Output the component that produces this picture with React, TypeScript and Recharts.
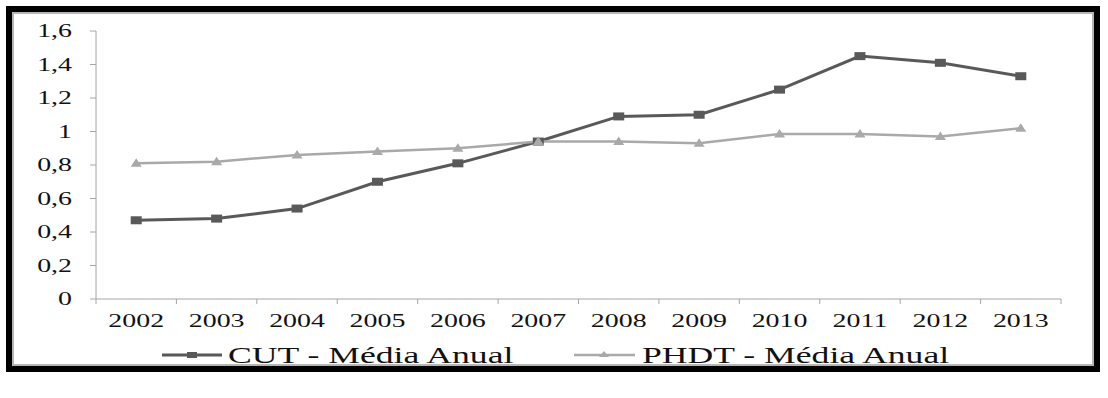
import { LineChart, Line, XAxis, YAxis, Legend } from "recharts";

const years = ["2002", "2003", "2004", "2005", "2006", "2007", "2008", "2009", "2010", "2011", "2012", "2013"];
const cutValues = [0.47, 0.48, 0.54, 0.7, 0.81, 0.94, 1.09, 1.1, 1.25, 1.45, 1.41, 1.33];
const phdtValues = [0.81, 0.82, 0.86, 0.88, 0.9, 0.94, 0.94, 0.93, 0.985, 0.985, 0.97, 1.02];
const yTicks = [0, 0.2, 0.4, 0.6, 0.8, 1, 1.2, 1.4, 1.6];
const seriesNames = ["CUT - Média Anual", "PHDT - Média Anual"];

const data = years.map((year, i) => ({ year, cut: cutValues[i], phdt: phdtValues[i] }));

const FONT = "Liberation Serif, DejaVu Serif, serif";
const AXIS = "#a6a6a6";
const CUT_COLOR = "#595959";
const PHDT_COLOR = "#a9a9a9";
const STRETCH = 1.55;

const fmt = (v: number) => String(v).replace(".", ",");

function XTick(props: any) {
  const { x, y, payload, index } = props;
  const half = payload.offset || 40.2;
  const axisY = y - 5;
  return (
    <g>
      <line x1={x - half} x2={x - half} y1={axisY} y2={axisY + 5} stroke={AXIS} />
      {index === years.length - 1 && (
        <line x1={x + half} x2={x + half} y1={axisY} y2={axisY + 5} stroke={AXIS} />
      )}
      <text
        transform={`translate(${x},${axisY + 28}) scale(${STRETCH},1)`}
        textAnchor="middle"
        fontSize={18}
        fontFamily={FONT}
        fill="#111"
      >
        {payload.value}
      </text>
    </g>
  );
}

function YTick(props: any) {
  const { x, y, payload } = props;
  return (
    <text
      transform={`translate(${x - 16},${y + 6}) scale(${STRETCH},1)`}
      textAnchor="end"
      fontSize={18}
      fontFamily={FONT}
      fill="#111"
    >
      {fmt(payload.value)}
    </text>
  );
}

function SquareDot(props: any) {
  const { cx, cy } = props;
  if (cx == null || cy == null) return null;
  return <rect x={cx - 5.5} y={cy - 4} width={11} height={8} fill={CUT_COLOR} />;
}

function TriangleDot(props: any) {
  const { cx, cy } = props;
  if (cx == null || cy == null) return null;
  return (
    <polygon
      points={`${cx},${cy - 5} ${cx + 5.5},${cy + 3.5} ${cx - 5.5},${cy + 3.5}`}
      fill={PHDT_COLOR}
    />
  );
}

function LegendContent() {
  return (
    <svg width={1108} height={26} style={{ display: "block", overflow: "visible" }}>
      <line x1={162} x2={222} y1={11} y2={11} stroke={CUT_COLOR} strokeWidth={3} />
      <rect x={187} y={8} width={10} height={6} fill={CUT_COLOR} />
      <text
        transform={`translate(228,19) scale(1.55,1)`}
        fontSize={23}
        fontFamily={FONT}
        fill="#111"
      >
        {seriesNames[0]}
      </text>
      <line x1={574} x2={635} y1={11} y2={11} stroke={PHDT_COLOR} strokeWidth={2.5} />
      <polygon points="604,7 609,13 599,13" fill={PHDT_COLOR} />
      <text
        transform={`translate(642,19) scale(1.55,1)`}
        fontSize={23}
        fontFamily={FONT}
        fill="#111"
      >
        {seriesNames[1]}
      </text>
    </svg>
  );
}

export default function App() {
  return (
    <div style={{ position: "absolute", left: 0, top: 0, width: 1108, height: 398, background: "#fff" }}>
      <div
        style={{
          position: "absolute",
          left: 6,
          top: 6,
          width: 1094,
          height: 366,
          border: "6px solid #000",
          boxSizing: "border-box",
        }}
      >
        <div style={{ position: "absolute", inset: 0, border: "2px solid #b5b5b5" }} />
      </div>
      <div style={{ position: "absolute", left: 0, top: 0 }}>
        <LineChart
          width={1108}
          height={398}
          data={data}
          margin={{ top: 31, right: 47, bottom: 28, left: 36 }}
        >
          <XAxis
            dataKey="year"
            scale="band"
            stroke={AXIS}
            tickLine={false}
            tickSize={5}
            tickMargin={0}
            height={45}
            interval={0}
            tick={<XTick />}
          />
          <YAxis
            domain={[0, 1.6]}
            ticks={yTicks}
            width={60}
            stroke={AXIS}
            tickSize={6}
            tickMargin={2}
            interval={0}
            tick={<YTick />}
          />
          <Legend
            verticalAlign="bottom"
            content={<LegendContent />}
            wrapperStyle={{ left: 0, width: 1108, height: 26, bottom: 28 }}
          />
          <Line
            dataKey="cut"
            name={seriesNames[0]}
            stroke={CUT_COLOR}
            strokeWidth={3}
            dot={<SquareDot />}
            activeDot={false}
            isAnimationActive={false}
          />
          <Line
            dataKey="phdt"
            name={seriesNames[1]}
            stroke={PHDT_COLOR}
            strokeWidth={2.5}
            dot={<TriangleDot />}
            activeDot={false}
            isAnimationActive={false}
          />
        </LineChart>
      </div>
    </div>
  );
}
